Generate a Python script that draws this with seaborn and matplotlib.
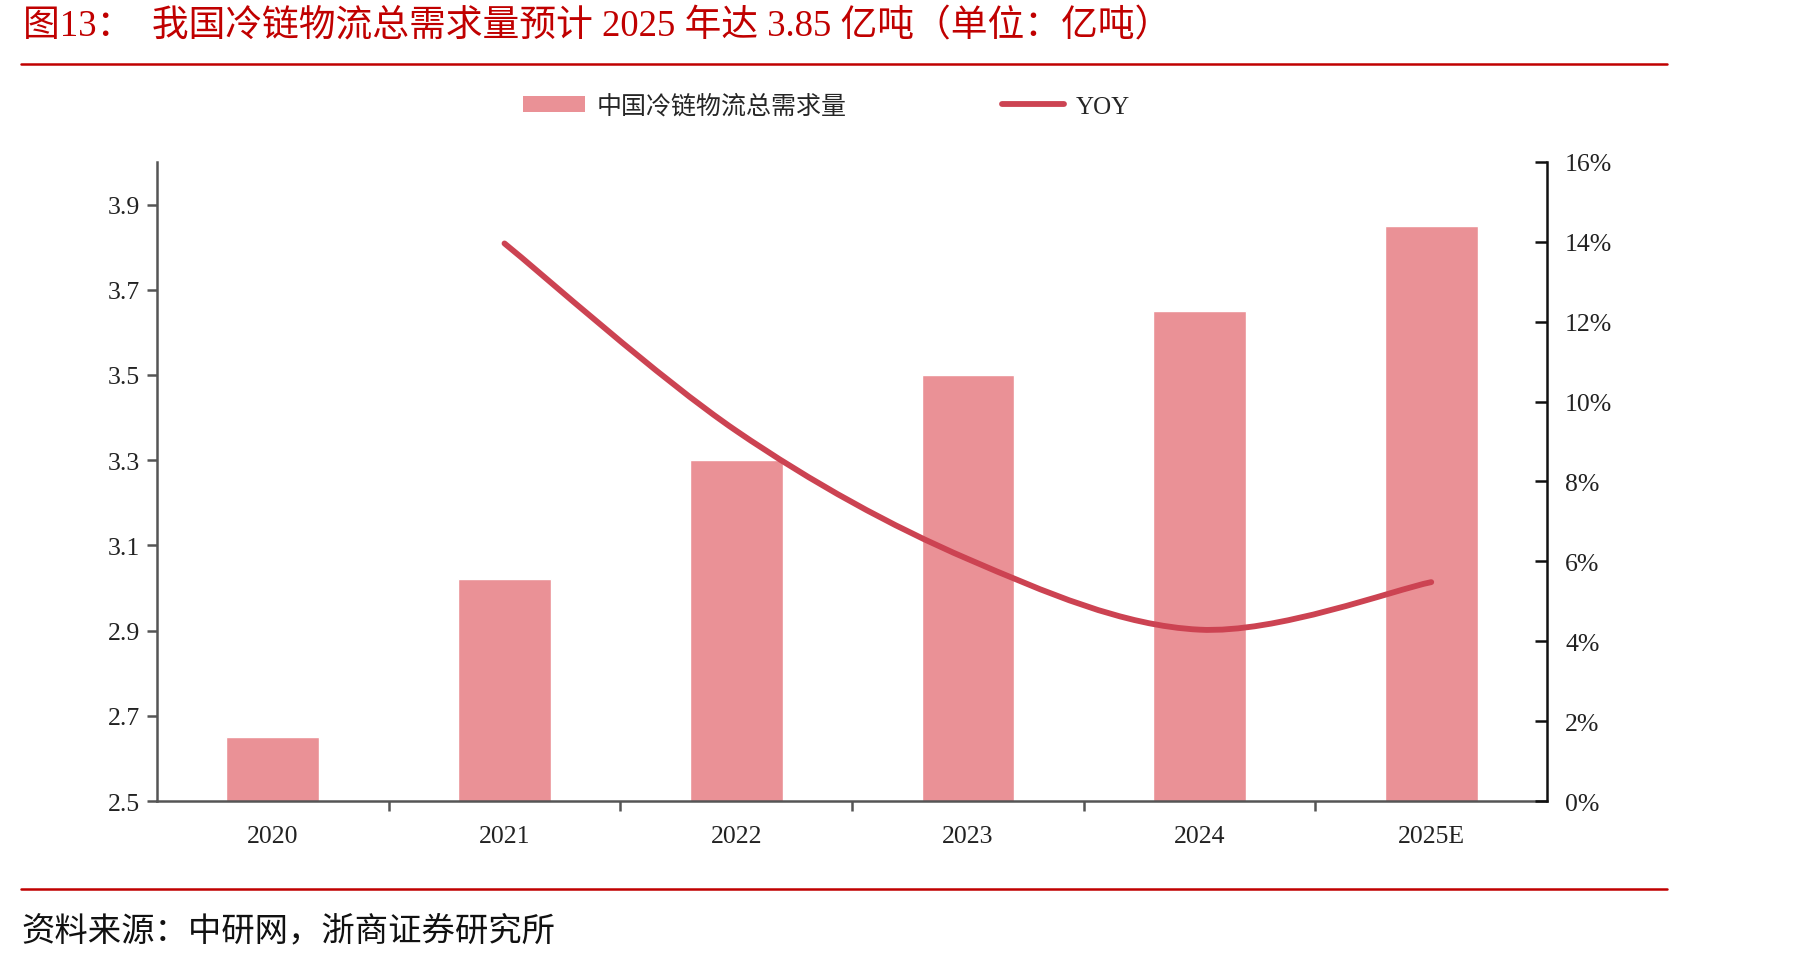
import numpy as np
import pandas as pd
import matplotlib
matplotlib.use("Agg")
import matplotlib.pyplot as plt
import seaborn as sns
from matplotlib.path import Path
from matplotlib.patches import PathPatch, Patch
from matplotlib.lines import Line2D
from matplotlib.ticker import FixedLocator, PercentFormatter

# ---------------- data ----------------
years = ["2020", "2021", "2022", "2023", "2024", "2025E"]
demand = [2.65, 3.02, 3.30, 3.50, 3.65, 3.85]          # 亿吨
yoy_years = ["2021", "2022", "2023", "2024", "2025E"]
yoy = [0.1396, 0.0927, 0.0606, 0.0429, 0.0548]
left_ticks = [2.5, 2.7, 2.9, 3.1, 3.3, 3.5, 3.7, 3.9]
right_ticks = [0.0, 0.02, 0.04, 0.06, 0.08, 0.10, 0.12, 0.14, 0.16]

title = "图13：  我国冷链物流总需求量预计 2025 年达 3.85 亿吨（单位：亿吨）"
source = "资料来源：中研网，浙商证券研究所"
bar_label = "中国冷链物流总需求量"
line_label = "YOY"

bar_color = "#EA9196"
line_color = "#CC4352"
red = "#C00000"

sns.set_theme(style="white")
plt.rcParams["font.family"] = ["Liberation Serif", "Noto Sans CJK SC"]
plt.rcParams["axes.unicode_minus"] = False

fig = plt.figure(figsize=(17.96, 9.62), dpi=100)
ax = fig.add_axes([0.0874, 0.1663, 0.8614 - 0.0874, 0.8306 - 0.1663])

df = pd.DataFrame({"year": years, "demand": demand})
sns.barplot(data=df, x="year", y="demand", color=bar_color, width=0.4,
            saturation=1, ax=ax, zorder=2)
ax.set_xlim(-0.5, len(years) - 0.5)
ax.set_ylim(2.5, 4.0)
ax.set_yticks(left_ticks)
ax.set_yticklabels([f"{v:.1f}" for v in left_ticks])
ax.set_xlabel("")
ax.set_ylabel("")

# x ticks: marks at category boundaries, labels at centres
ax.xaxis.set_major_locator(FixedLocator(np.arange(0.5, len(years) - 0.5, 1.0)))
ax.set_xticklabels([""] * (len(years) - 1))
ax.xaxis.set_minor_locator(FixedLocator(np.arange(len(years))))
ax.set_xticklabels(years, minor=True)
ax.tick_params(axis="x", which="major", direction="out", length=7, width=1.8,
               color="#555555", bottom=True)
ax.tick_params(axis="x", which="minor", length=0, pad=17, labelsize=18.5,
               labelcolor="#222222", bottom=True)
ax.tick_params(axis="y", direction="out", length=7, width=1.8, color="#555555",
               labelsize=18.5, labelcolor="#222222", pad=5, left=True)

for s in ["top", "right"]:
    ax.spines[s].set_visible(False)
for s in ["left", "bottom"]:
    ax.spines[s].set_color("#555555")
    ax.spines[s].set_linewidth(1.8)

# secondary axis
ax2 = ax.twinx()
ax2.set_ylim(0, 0.16)
ax2.set_yticks(right_ticks)
ax2.yaxis.set_major_formatter(PercentFormatter(1.0, decimals=0))
ax2.tick_params(axis="y", direction="in", length=9, width=1.8, color="#111111",
                labelsize=18.5, labelcolor="#222222", pad=13, right=True)
for s in ["top", "left", "bottom"]:
    ax2.spines[s].set_visible(False)
ax2.spines["right"].set_color("#111111")
ax2.spines["right"].set_linewidth(1.8)
ax2.grid(False)
ax.grid(False)

# smooth YOY line (cubic Bezier through the data points, Excel-style smoothing)
xs = np.array([years.index(y) for y in yoy_years], dtype=float)
ys = np.array(yoy)
pts = np.column_stack([xs, ys])
verts = [tuple(pts[0])]
codes = [Path.MOVETO]
n = len(pts)
for i in range(n - 1):
    p0 = pts[i - 1] if i > 0 else pts[i]
    p1 = pts[i]
    p2 = pts[i + 1]
    p3 = pts[i + 2] if i + 2 < n else pts[i + 1]
    c1 = p1 + (p2 - p0) / 6.0
    c2 = p2 - (p3 - p1) / 6.0
    verts += [tuple(c1), tuple(c2), tuple(p2)]
    codes += [Path.CURVE4] * 3
patch = PathPatch(Path(verts, codes), fill=False, edgecolor=line_color,
                  linewidth=4.2, capstyle="round", joinstyle="round", zorder=3)
ax2.add_patch(patch)

# legend
handles = [Patch(facecolor=bar_color, edgecolor="none", label=bar_label),
           Line2D([0], [0], color=line_color, lw=4.2, solid_capstyle="round",
                  label=line_label)]
fig.legend(handles=handles, loc="center", bbox_to_anchor=(0.460, 0.889),
           ncol=2, frameon=False, fontsize=18, handlelength=2.5,
           handleheight=0.62, handletextpad=0.45, columnspacing=6.2)

# title, rules, source
fig.text(0.0128, 0.972, title, fontsize=26.5, color=red, ha="left", va="center")
fig.add_artist(Line2D([0.0117, 0.928], [1 - 65 / 962, 1 - 65 / 962],
                      transform=fig.transFigure, color=red, lw=1.8))
fig.add_artist(Line2D([0.0117, 0.928], [1 - 890 / 962, 1 - 890 / 962],
                      transform=fig.transFigure, color=red, lw=1.8))
fig.text(0.0117, 1 - 932 / 962, source, fontsize=24, color="#111111",
         ha="left", va="center")

fig.savefig("out.png", dpi=100)
